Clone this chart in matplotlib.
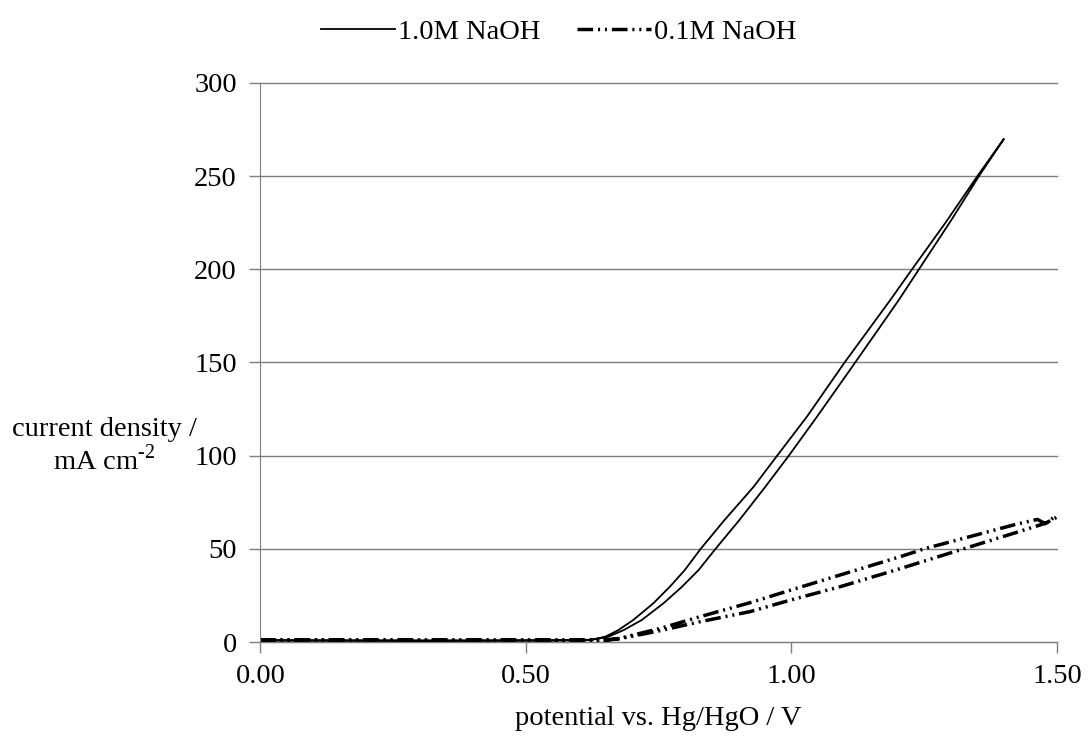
import numpy as np
import matplotlib
matplotlib.use("Agg")
import matplotlib.pyplot as plt

plt.rcParams['font.family'] = ['Liberation Serif', 'DejaVu Serif']
plt.rcParams['mathtext.fontset'] = 'custom'
plt.rcParams['mathtext.rm'] = 'Liberation Serif'
plt.rcParams['font.size'] = 20.5

# 1.0M NaOH, sweep up (lower branch) and back (upper branch)
v_1m_up = [0.00, 0.30, 0.55, 0.62, 0.655, 0.684, 0.718, 0.759, 0.794, 0.825,
           0.857, 0.902, 0.951, 0.995, 1.048, 1.120, 1.202, 1.240, 1.300,
           1.353, 1.400]
i_1m_up = [0.8, 0.6, 0.7, 1.0, 2.8, 6.4, 11.8, 20.8, 29.7, 38.6,
           50.0, 65.5, 83.4, 100.0, 120.9, 150.0, 183.5, 200.0, 226.0,
           250.0, 270.0]
v_1m_down = [1.400, 1.350, 1.290, 1.227, 1.186, 1.100, 1.029, 0.973, 0.929,
             0.874, 0.829, 0.799, 0.771, 0.740, 0.702, 0.674, 0.649, 0.625,
             0.600, 0.400, 0.00]
i_1m_down = [270.0, 250.0, 225.0, 200.0, 183.5, 150.0, 120.9, 100.0, 83.4,
             65.5, 50.0, 38.6, 29.7, 20.8, 11.8, 6.4, 2.8, 1.3,
             1.0, 0.9, 0.9]

# 0.1M NaOH
v_01m_up = [0.00, 0.30, 0.55, 0.65, 0.677, 0.753, 0.828, 0.922, 0.998, 1.092,
            1.196, 1.324, 1.418, 1.478, 1.500]
i_01m_up = [1.0, 0.9, 0.9, 0.9, 1.8, 6.1, 10.9, 16.3, 22.5, 29.7,
            38.6, 50.0, 58.3, 63.7, 67.0]
v_01m_down = [1.500, 1.494, 1.478, 1.463, 1.418, 1.250, 1.205, 1.092, 0.998,
              0.922, 0.828, 0.753, 0.677, 0.650, 0.55, 0.30, 0.00]
i_01m_down = [67.0, 66.9, 63.5, 65.8, 62.8, 50.0, 45.8, 36.0, 27.8,
              21.1, 13.6, 7.3, 2.0, 1.1, 1.0, 1.0, 1.1]

fig = plt.figure(figsize=(10.89, 7.37), dpi=100)
ax = fig.add_axes([0.2392, 0.1289, 0.7314, 0.7585])

ax.plot(v_1m_up + v_1m_down, i_1m_up + i_1m_down, color='black', lw=1.3,
        label='1.0M NaOH')
ax.plot(v_01m_up + v_01m_down, i_01m_up + i_01m_down, color='black', lw=2.5,
        dashes=(4.5, 1.4, 0.6, 1.4, 0.6, 1.4), label='0.1M NaOH')

ax.set_xlim(0, 1.5)
ax.set_ylim(0, 300)
ax.set_xticks([0, 0.5, 1.0, 1.5])
ax.set_xticklabels(['0.00', '0.50', '1.00', '1.50'])
ax.set_yticks(np.arange(0, 301, 50))

ax.yaxis.grid(True, color='#7f7f7f', lw=1.0)
for gl in ax.get_ygridlines():
    gl.set_clip_on(False)
ax.set_axisbelow(True)

for side in ['top', 'right']:
    ax.spines[side].set_visible(False)
for side in ['left', 'bottom']:
    ax.spines[side].set_color('#7f7f7f')
ax.tick_params(axis='both', colors='#7f7f7f', labelcolor='black', length=8,
               width=1.0, direction='out')
ax.tick_params(axis='x', pad=8)
ax.tick_params(axis='y', pad=9)

ax.set_xlabel('potential vs. Hg/HgO / V', labelpad=12)
ax.set_ylabel('current density /\nmA cm$^{\\text{-2}}$', rotation=0, ha='center',
              va='center', linespacing=1.1)
ax.yaxis.set_label_coords(-0.196, 0.35)

fig.legend(loc='center', bbox_to_anchor=(0.513, 0.957), ncol=2, frameon=False,
           handlelength=2.6, handletextpad=0.1, columnspacing=1.3)

fig.savefig('out.png', dpi=100)
